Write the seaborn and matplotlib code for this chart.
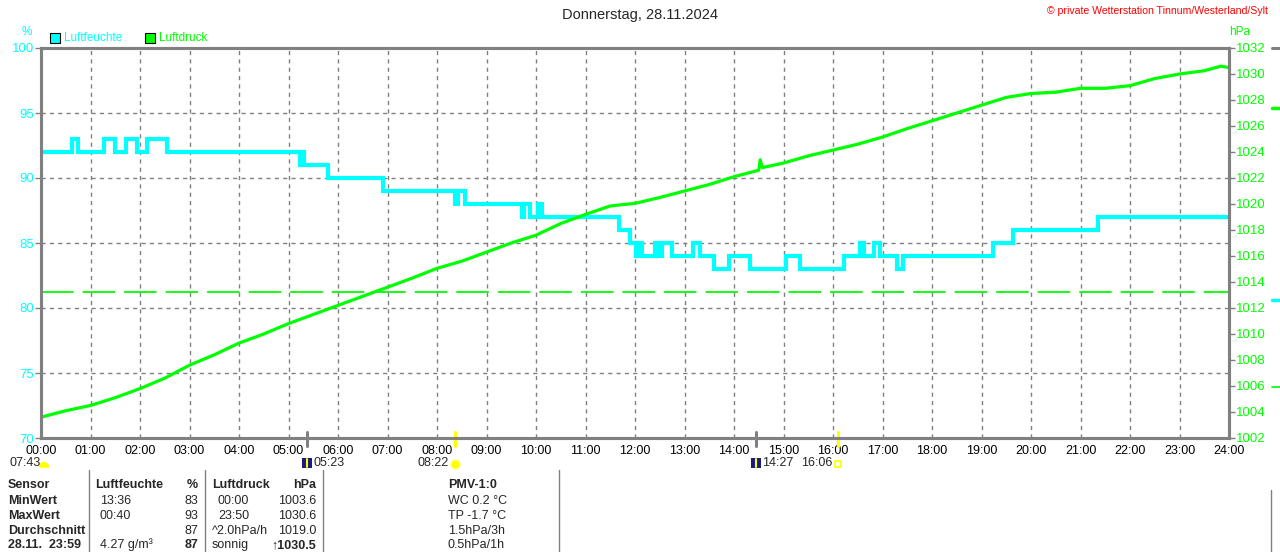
import numpy as np
import pandas as pd
import matplotlib
matplotlib.use("Agg")
import matplotlib.pyplot as plt
import seaborn as sns
from matplotlib.patches import Rectangle, Wedge
from matplotlib.lines import Line2D
import matplotlib.transforms as mtransforms

W, H = 1280, 552

# Luftfeuchte, step changes (hour of day, %)
hum_hours = [0.0, 0.62, 0.75, 1.27, 1.50, 1.72, 1.94, 2.14, 2.54, 5.23, 5.27, 5.31,
             5.79, 6.91, 8.36, 8.42, 8.57, 9.71, 9.76, 9.88, 10.05, 10.13, 11.68, 11.90,
             12.02, 12.10, 12.14, 12.40, 12.49, 12.54, 12.74, 13.18, 13.31, 13.60, 13.90,
             14.32, 15.06, 15.33, 16.22, 16.55, 16.63, 16.83, 16.95, 17.30, 17.41, 19.23,
             19.63, 21.35, 24.0]
hum_values = [92, 93, 92, 93, 92, 93, 92, 93, 92, 91, 92, 91,
              90, 89, 88, 89, 88, 87, 88, 87, 88, 87, 86, 85,
              84, 85, 84, 85, 84, 85, 84, 85, 84, 83, 84,
              83, 84, 83, 84, 85, 84, 85, 84, 83, 84, 85,
              86, 87, 87]

# Luftdruck (hour of day, hPa)
press_hours = [0.0, 0.5, 1.0, 1.5, 2.0, 2.5, 3.0, 3.5, 4.0, 4.5, 5.0, 5.5, 6.0, 6.5,
               7.0, 7.5, 8.0, 8.5, 9.0, 9.5, 10.0, 10.5, 11.0, 11.5, 12.0, 12.5, 13.0,
               13.5, 14.0, 14.5, 14.53, 14.57, 15.0, 15.5, 16.0, 16.5, 17.0, 17.5, 18.0,
               18.5, 19.0, 19.5, 20.0, 20.5, 21.0, 21.5, 22.0, 22.5, 23.0, 23.5, 23.83, 24.0]
press_values = [1003.6, 1004.1, 1004.5, 1005.1, 1005.8, 1006.6, 1007.6, 1008.4, 1009.3,
                1010.0, 1010.8, 1011.5, 1012.2, 1012.9, 1013.6, 1014.3, 1015.05, 1015.6,
                1016.3, 1017.0, 1017.6, 1018.5, 1019.2, 1019.85, 1020.05, 1020.5, 1021.0,
                1021.5, 1022.1, 1022.6, 1023.4, 1022.8, 1023.15, 1023.7, 1024.15, 1024.6,
                1025.15, 1025.8, 1026.4, 1027.0, 1027.6, 1028.2, 1028.5, 1028.6, 1028.9,
                1028.9, 1029.1, 1029.65, 1030.0, 1030.25, 1030.6, 1030.5]

ref_pressure = 1013.25
hour_ticks = list(range(25))
hour_labels = [f"{h:02d}:00" for h in hour_ticks]
hum_ticks = [70, 75, 80, 85, 90, 95, 100]
press_ticks = list(range(1002, 1033, 2))

# sun / moon events below the x axis
event_hours = [5.383, 8.367, 14.45, 16.1]
event_labels = ["05:23", "08:22", "14:27", "16:06"]
event_colors = ["#808080", "#ffff00", "#808080", "#ffff00"]

# table below the chart
row_heads = ["Sensor", "MinWert", "MaxWert", "Durchschnitt", "28.11.  23:59"]
hum_time = ["Luftfeuchte", "13:36", "00:40", "", "4.27 g/m³"]
hum_val = ["%", "83", "93", "87", "87"]
press_time = ["Luftdruck", "00:00", "23:50", "^2.0hPa/h", "sonnig"]
press_val = ["hPa", "1003.6", "1030.6", "1019.0", "↑1030.5"]
pmv_lines = ["PMV-1:0", "WC 0.2 °C", "TP -1.7 °C", "1.5hPa/3h", "0.5hPa/1h"]

CYAN = "#00ffff"
GREEN = "#00ff00"
GRAY = "#808080"

sns.set_style("white")
plt.rcParams['font.family'] = ['Liberation Sans', 'DejaVu Sans']
plt.rcParams['font.size'] = 9


def fx(x):
    return x / W


def fy(y):
    return 1 - y / H


fig = plt.figure(figsize=(W / 100, H / 100), dpi=100)
ax = fig.add_axes([fx(41), fy(438), (1229 - 41) / W, (438 - 48) / H])
ax2 = ax.twinx()

hum_df = pd.DataFrame({"hour": hum_hours, "hum": hum_values})
press_df = pd.DataFrame({"hour": press_hours, "press": press_values})

sns.lineplot(data=hum_df, x="hour", y="hum", ax=ax, color=CYAN, lw=3,
             drawstyle="steps-post", solid_joinstyle="miter")
sns.lineplot(data=press_df, x="hour", y="press", ax=ax2, color=GREEN, lw=2.3)
ax2.axhline(ref_pressure, color=GREEN, lw=1.3, dashes=(18, 5))

ax.set_xlim(0, 24)
ax.set_ylim(70, 100)
ax2.set_ylim(1002, 1032)
ax.set_xticks(hour_ticks)
ax.set_xticklabels(hour_labels)
ax.set_yticks(hum_ticks)
ax.set_yticklabels([str(v) for v in hum_ticks])
ax2.set_yticks(press_ticks)
ax2.set_yticklabels([str(v) for v in press_ticks])
ax.set_xlabel("")
ax.set_ylabel("")
ax2.set_ylabel("")

ax.grid(True, color=GRAY, ls=(0, (3, 3)), lw=1)
ax2.grid(False)
for a in (ax, ax2):
    for s in a.spines.values():
        s.set_color(GRAY)
        s.set_linewidth(2.2)
ax.tick_params(axis="y", colors=GRAY, labelcolor=CYAN, length=4, width=1, pad=1, labelsize=9.5)
ax.tick_params(axis="x", colors=GRAY, labelcolor="black", length=0, width=1, pad=5, labelsize=9)
ax2.tick_params(axis="y", colors=GRAY, labelcolor=GREEN, length=4, width=1, pad=1, labelsize=9.5)

# event ticks and icons below the axis
trans = mtransforms.blended_transform_factory(ax.transData, ax.transAxes)
for h, lab, c in zip(event_hours, event_labels, event_colors):
    ax.add_line(Line2D([h, h], [-0.021, 0.016], color=c, lw=2.2, transform=trans,
                       clip_on=False, zorder=5))
xpix = lambda h: 41 + h * (1229 - 41) / 24
pix = mtransforms.IdentityTransform()

# sunrise marker at start
fig.text(fx(10), fy(463), "07:43", ha="left", va="center", fontsize=9)
fig.add_artist(Wedge((44, H - 467), 4.5, 0, 180, color="#ffff00", transform=pix))
for h, lab, c in zip(event_hours, event_labels, event_colors):
    px = xpix(h)
    if c == GRAY:
        fig.add_artist(Rectangle((fx(px - 5), fy(468)), 10 / W, 10 / H, facecolor="#1a1a80",
                                 edgecolor="none", transform=fig.transFigure))
        fig.add_artist(Line2D([fx(px), fx(px)], [fy(467), fy(459)], color="#ffff00", lw=1.5,
                              transform=fig.transFigure))
        fig.text(fx(px + 6), fy(463), lab, ha="left", va="center", fontsize=9)
    else:
        fig.text(fx(px - 6), fy(463), lab, ha="right", va="center", fontsize=9)
        if lab == "08:22":
            fig.add_artist(Line2D([fx(px)], [fy(464)], marker="o", ms=6.5, color="#ffff00",
                                  mec="#ffff80", transform=fig.transFigure))
        else:
            fig.add_artist(Line2D([fx(px)], [fy(464)], marker="s", ms=5, mfc="none",
                                  mec="#ffff00", mew=1.2, transform=fig.transFigure))

# title, copyright and legend
fig.text(0.5, fy(15), "Donnerstag, 28.11.2024", ha="center", va="center", fontsize=10.5)
fig.text(fx(1268), fy(11), "© private Wetterstation Tinnum/Westerland/Sylt", ha="right",
         va="center", fontsize=7.6, color="#ff0000")
fig.text(fx(27), fy(32), "%", ha="center", va="center", fontsize=8.5, color=CYAN)
fig.text(fx(1240), fy(32), "hPa", ha="center", va="center", fontsize=8.5, color=GREEN)
for x0, lab, c in [(50, "Luftfeuchte", CYAN), (145, "Luftdruck", GREEN)]:
    fig.add_artist(Rectangle((fx(x0), fy(43)), 10 / W, 10 / H, facecolor=c, edgecolor="black",
                             lw=0.8, transform=fig.transFigure))
    fig.text(fx(x0 + 14), fy(38), lab, ha="left", va="center", fontsize=8.5, color=c)

# table separators
for xs in [89, 205, 323, 559]:
    fig.add_artist(Line2D([fx(xs), fx(xs)], [fy(470), 0], color=GRAY, lw=1,
                          transform=fig.transFigure))
fig.add_artist(Line2D([fx(1271), fx(1271)], [fy(490), 0], color=GRAY, lw=1,
                      transform=fig.transFigure))

row_y = [485, 501, 516, 531, 545]
for i, y in enumerate(row_y):
    fig.text(fx(8), fy(y), row_heads[i], ha="left", va="center", fontweight="bold", fontsize=9)
    fig.text(fx(95 if i == 0 else 100), fy(y), hum_time[i], ha="left", va="center",
             fontweight="bold" if i == 0 else "normal", fontsize=9)
    fig.text(fx(198), fy(y), hum_val[i], ha="right", va="center",
             fontweight="bold" if i in (0, 4) else "normal", fontsize=9)
    fig.text(fx(212 if i in (0, 3, 4) else 218), fy(y), press_time[i], ha="left", va="center",
             fontweight="bold" if i == 0 else "normal", fontsize=9)
    fig.text(fx(316), fy(y), press_val[i], ha="right", va="center",
             fontweight="bold" if i in (0, 4) else "normal", fontsize=9)
    fig.text(fx(448), fy(y), pmv_lines[i], ha="left", va="center",
             fontweight="bold" if i == 0 else "normal", fontsize=9)

# fragments of the next panel at the right edge
fig.add_artist(Line2D([fx(1272), 1], [fy(48), fy(48)], color=GRAY, lw=2.2, transform=fig.transFigure))
fig.add_artist(Line2D([fx(1272), 1], [fy(108), fy(108)], color=GREEN, lw=2.5, transform=fig.transFigure))
fig.add_artist(Line2D([fx(1272), 1], [fy(300), fy(300)], color=CYAN, lw=2.5, transform=fig.transFigure))
fig.add_artist(Line2D([fx(1272), 1], [fy(387), fy(387)], color=GREEN, lw=1.2, transform=fig.transFigure))

fig.savefig("out.png", dpi=100)
